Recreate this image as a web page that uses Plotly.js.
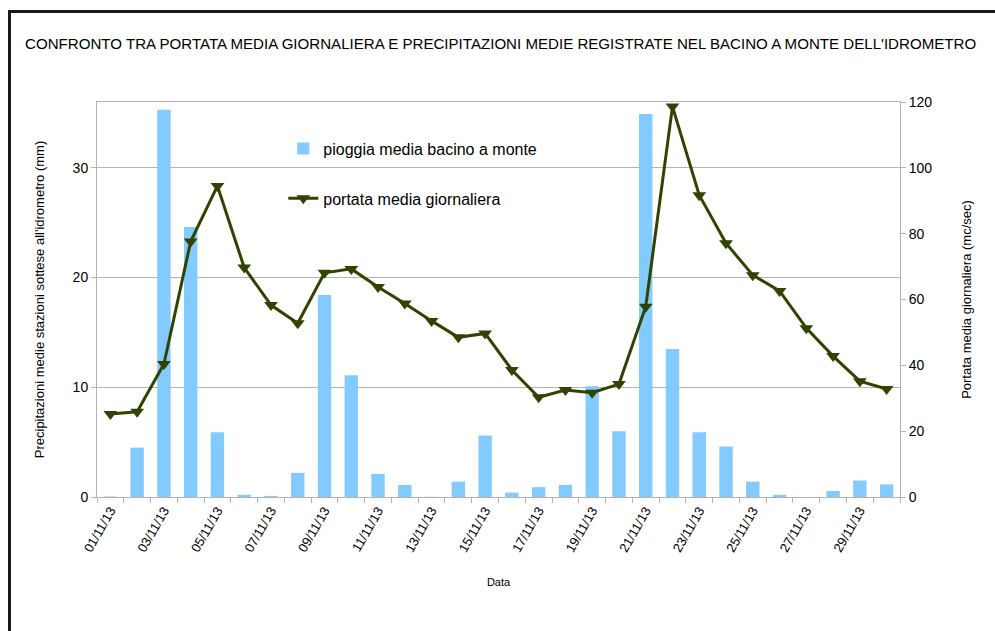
<!DOCTYPE html>
<html>
<head>
<meta charset="utf-8">
<script src="https://cdn.plot.ly/plotly-3.0.1.min.js"></script>
<style>
  html, body { margin:0; padding:0; background:#fff; overflow:hidden; }
  #chart { position:absolute; left:0; top:0; width:995px; height:631px; }
  #frame { position:absolute; left:8px; top:10px; width:1100px; height:800px;
           border:3px solid #1a1a1a; pointer-events:none; box-sizing:border-box; }
</style>
</head>
<body>
<div id="chart"></div>
<div id="frame"></div>
<script>
// Dates (categories)
const dates = ["01/11/13","02/11/13","03/11/13","04/11/13","05/11/13","06/11/13","07/11/13","08/11/13","09/11/13","10/11/13",
               "11/11/13","12/11/13","13/11/13","14/11/13","15/11/13","16/11/13","17/11/13","18/11/13","19/11/13","20/11/13",
               "21/11/13","22/11/13","23/11/13","24/11/13","25/11/13","26/11/13","27/11/13","28/11/13","29/11/13","30/11/13"];
// Tick labels (every other day)
const tickLabels = dates.map((d, i) => (i % 2 === 0 ? d : ""));
// Pioggia media bacino a monte (mm)
const pioggia = [0.05, 4.5, 35.3, 24.6, 5.9, 0.2, 0.1, 2.2, 18.4, 11.1,
                 2.1, 1.1, 0.02, 1.4, 5.6, 0.4, 0.9, 1.1, 10.1, 6.0,
                 34.9, 13.5, 5.9, 4.6, 1.4, 0.2, 0, 0.55, 1.5, 1.15];
// Portata media giornaliera (mc/sec)
const portata = [25.2, 25.9, 40.4, 77.6, 94.5, 69.7, 58.3, 52.8, 68.1, 69.3,
                 63.8, 58.8, 53.5, 48.5, 49.7, 38.6, 30.3, 32.5, 31.7, 34.3,
                 57.8, 118.6, 91.7, 77.1, 67.4, 62.6, 51.3, 42.8, 35.2, 32.8];

const FONT = "Liberation Sans, Arial, sans-serif";

const traces = [
  {
    type: "bar", x: dates, y: pioggia, name: "pioggia media bacino a monte",
    marker: { color: "#83caff" }, yaxis: "y", legendgroup: "a"
  },
  {
    type: "scatter", mode: "lines+markers", x: dates, y: portata,
    name: "portata media giornaliera", yaxis: "y2", legendgroup: "b",
    line: { color: "#304300", width: 3 },
    marker: { symbol: "triangle-down", size: 12, color: "#304300" },
    cliponaxis: false
  }
];

const layout = {
  width: 995, height: 631,
  paper_bgcolor: "#ffffff", plot_bgcolor: "#ffffff",
  margin: { l: 97, r: 95, t: 102, b: 134 },
  font: { family: FONT, color: "#000", size: 13 },
  showlegend: true,
  bargap: 0.5,
  title: {
    text: "CONFRONTO TRA PORTATA MEDIA GIORNALIERA E PRECIPITAZIONI MEDIE REGISTRATE NEL BACINO A MONTE DELL'IDROMETRO",
    font: { family: FONT, size: 15.1, color: "#000" },
    xref: "container", yref: "container", x: 25/995, xanchor: "left", y: 1 - 44/631, yanchor: "middle"
  },
  legend: {
    x: 0.232, y: 0.925, xanchor: "left", yanchor: "top",
    bgcolor: "rgba(0,0,0,0)", font: { family: FONT, size: 16 },
    tracegroupgap: 26, itemwidth: 30
  },
  xaxis: {
    type: "category", tickmode: "array", tickvals: dates, ticktext: tickLabels,
    range: [-0.5, 29.5], autorange: false,
    tickson: "boundaries", ticks: "outside", ticklen: 5, tickcolor: "#b3b3b3",
    tickangle: -60, tickfont: { family: FONT, size: 13 },
    showline: true, linecolor: "#b3b3b3", linewidth: 1, mirror: true,
    showgrid: false, zeroline: false,
    title: { text: "Data", font: { family: FONT, size: 11 }, standoff: 24 }
  },
  yaxis: {
    range: [0, 36], dtick: 10, tick0: 0,
    ticks: "outside", ticklen: 5, tickcolor: "#b3b3b3",
    tickfont: { family: FONT, size: 14 },
    showline: true, linecolor: "#b3b3b3", linewidth: 1, mirror: true,
    showgrid: true, gridcolor: "#b3b3b3", gridwidth: 1, zeroline: false,
    title: { text: "Precipitazioni medie stazioni sottese all'idrometro (mm)", font: { family: FONT, size: 13 }, standoff: 25 }
  },
  yaxis2: {
    overlaying: "y", side: "right", range: [0, 120], dtick: 20, tick0: 0,
    ticks: "outside", ticklen: 5, tickcolor: "#b3b3b3",
    tickfont: { family: FONT, size: 14 },
    showline: true, linecolor: "#b3b3b3", linewidth: 1,
    showgrid: false, zeroline: false,
    title: { text: "Portata media giornaliera (mc/sec)", font: { family: FONT, size: 13 }, standoff: 30 }
  }
};

Plotly.newPlot("chart", traces, layout, { displayModeBar: false, staticPlot: true });
</script>
</body>
</html>
